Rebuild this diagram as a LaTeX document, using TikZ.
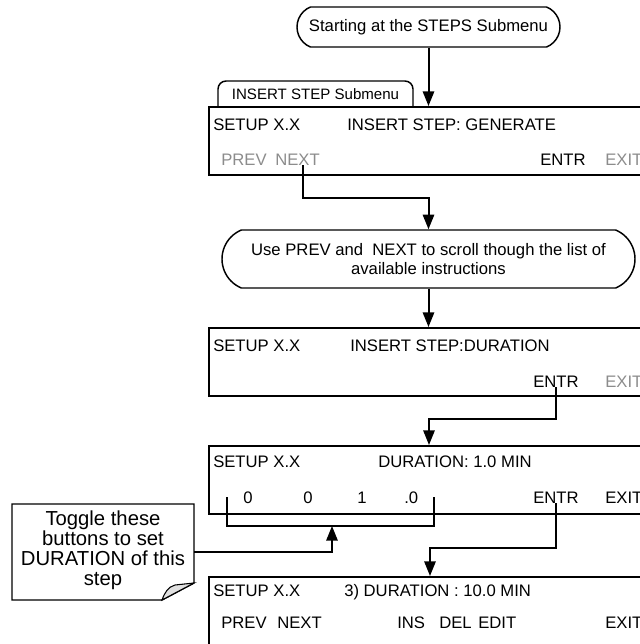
\documentclass[tikz,border=0pt]{standalone}
\usepackage{fontspec}
\setmainfont{Liberation Sans}
\usetikzlibrary{arrows.meta,shapes.misc,fit}
\definecolor{dimtext}{gray}{0.55}
\definecolor{foldgray}{gray}{0.88}
\begin{document}
\begin{tikzpicture}[x=0.75pt,y=-0.75pt,
  font=\fontsize{12.5}{14.3}\selectfont,
  screen/.style={draw,line width=1.5pt,inner sep=0pt},
  txt/.style={anchor=base west,inner sep=0pt},
  dim/.style={txt,text=dimtext},
  term/.style={draw,line width=1.1pt,rounded rectangle,rounded rectangle arc length=135,align=center,inner sep=0pt},
  link/.style={line width=1.5pt,-{Triangle[length=11pt,width=8.5pt]}},
  plain/.style={line width=1.5pt}
]
\useasboundingbox (0,0) rectangle (640,644);
\clip (0,0) rectangle (640,644);

% start terminator
\node[term,minimum width=197.25pt,minimum height=30pt] (start) at (428.5,27) {Starting at the STEPS Submenu};

% tab
\draw[line width=1.1pt,rounded corners=6pt] (218,107) -- (218,81) -- (413,81) -- (413,107);
\node[inner sep=0pt,font=\fontsize{11.3}{13}\selectfont] (tab) at (315.5,94) {INSERT STEP Submenu};

% screen 1
\node[screen,fit={(209,107)(700,175)}] (b1) {};
\node[txt] (b1a) at (213,130) {SETUP X.X};
\node[txt] (b1b) at (347,130) {INSERT STEP: GENERATE};
\node[dim] (b1prev) at (221,165) {PREV};
\node[dim] (b1next) at (275,165) {NEXT};
\node[txt] (b1entr) at (540,165) {ENTR};
\node[dim] (b1exit) at (605,165) {EXIT};

\draw[link] (start.south) -- (start.south |- b1.north);

% scroll terminator
\node[term,minimum width=309.75pt,minimum height=43.5pt] (use) at (428.5,259)
  {Use PREV and\ \ NEXT to scroll though the list of\\available instructions};

\coordinate (k1) at (303,198);
\draw[link] (b1next.south -| k1) -- (k1) -| (use.north);

% screen 2
\node[screen,fit={(209,328)(700,396)}] (b2) {};
\node[txt] (b2a) at (213,351) {SETUP X.X};
\node[txt] (b2b) at (350,351) {INSERT STEP:DURATION};
\node[txt] (b2entr) at (533,387) {ENTR};
\node[dim] (b2exit) at (605,387) {EXIT};

\draw[link] (use.south) -- (use.south |- b2.north);

% screen 3
\node[screen,fit={(209,446)(700,514)}] (b3) {};
\node[txt] (b3a) at (213,467) {SETUP X.X};
\node[txt] (b3b) at (378,467) {DURATION: 1.0 MIN};
\node[txt] (d1) at (243,503) {0};
\node[txt] (d2) at (303,503) {0};
\node[txt] (d3) at (357,503) {1};
\node[txt] (d4) at (404,503) {.0};
\node[txt] (b3entr) at (533,503) {ENTR};
\node[txt] (b3exit) at (605,503) {EXIT};

\coordinate (k2) at (429,419);
\draw[link] (b2entr.south) |- (k2) -- (k2 |- b3.north);

% bracket
\coordinate (brL) at (227,497);
\coordinate (brR) at (434,497);
\coordinate (brM) at (332,526);
\draw[plain] (brL) -- (brL |- brM) -- (brR |- brM) -- (brR);

% callout
\draw[line width=1.1pt,fill=white] (12,504) -- (194,504) -- (194,583) -- (162,600) -- (12,600) -- cycle;
\draw[line width=0.8pt,fill=foldgray] (162,600) .. controls (165,592) and (168,587) .. (175,585) -- (194,583) -- cycle;
\node[align=center,inner sep=0pt,font=\fontsize{15.2}{15}\selectfont] (tog) at (103,550)
  {Toggle these\\buttons to set\\DURATION of this\\step};
\coordinate (tc) at (194,552);
\draw[link] (tc) -| (brM);

% screen 4
\node[screen,fit={(209,577)(700,700)}] (b4) {};
\node[txt] (b4a) at (213,596) {SETUP X.X};
\node[txt] (b4b) at (344,596) {3) DURATION : 10.0 MIN};
\node[txt] (b4prev) at (221,628) {PREV};
\node[txt] (b4next) at (277,628) {NEXT};
\node[txt] (b4ins) at (397,628) {INS};
\node[txt] (b4del) at (439,628) {DEL};
\node[txt] (b4edit) at (478,628) {EDIT};
\node[txt] (b4exit) at (605,628) {EXIT};

\coordinate (k3) at (430,548);
\draw[link] (b3entr.south) |- (k3) -- (k3 |- b4.north);
\end{tikzpicture}
\end{document}
